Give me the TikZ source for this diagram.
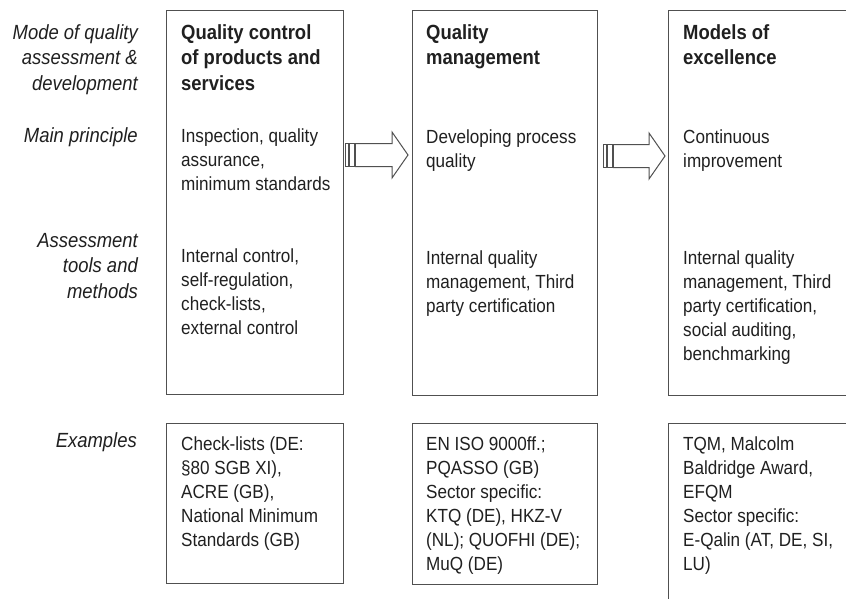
\documentclass[tikz,border=0pt]{standalone}
\usepackage{fontspec}
\setmainfont{Liberation Sans}[FakeStretch=0.9]
\usetikzlibrary{calc}
\definecolor{txt}{HTML}{202020}
\definecolor{ln}{HTML}{505050}
\tikzset{
  frame/.style={draw=ln, line width=1.3pt, fill=white, rectangle, inner sep=0pt},
  lbl/.style={anchor=base east, inner sep=0pt, align=right, text=txt,
    font=\fontsize{20.5}{25.5}\selectfont\itshape},
  ttl/.style={anchor=base west, inner sep=0pt, align=left, text=txt,
    font=\fontsize{20.5}{25.5}\selectfont\bfseries},
  bdy/.style={anchor=base west, inner sep=0pt, align=left, text=txt,
    font=\fontsize{19}{24}\selectfont},
  arrline/.style={draw=ln, line width=1pt, fill=white, line join=miter},
}
\begin{document}
\begin{tikzpicture}[x=1pt,y=-1pt]
\clip (0,0) rectangle (846,598);
\fill[white] (0,0) rectangle (846,598);
% boxes
\node[frame, minimum width=177pt, minimum height=384pt, anchor=north west] (b1) at (166,10) {};
\node[frame, minimum width=185pt, minimum height=385pt, anchor=north west] (b2) at (412,10) {};
\node[frame, minimum width=200pt, minimum height=385pt, anchor=north west] (b3) at (668,10) {};
\node[frame, minimum width=177pt, minimum height=160pt, anchor=north west] (e1) at (166,423) {};
\node[frame, minimum width=185pt, minimum height=161pt, anchor=north west] (e2) at (412,423) {};
\node[frame, minimum width=200pt, minimum height=200pt, anchor=north west] (e3) at (668,423) {};
% left labels (anchor = baseline of last line)
\node[lbl] (l1) at (138,90) {Mode of quality\\assessment \&\\development};
\node[lbl] (l2) at (138,142) {Main principle};
\node[lbl] (l3) at (138,298) {Assessment\\tools and\\methods};
\node[lbl] (l4) at (137,447) {Examples};
% box 1
\node[ttl] (t1) at (181,90) {Quality control\\of products and\\services};
\node[bdy] (p1) at (181,190) {Inspection, quality\\assurance,\\minimum standards};
\node[bdy] (m1) at (181,334) {Internal control,\\self-regulation,\\check-lists,\\external control};
\node[bdy] (x1) at (181,546) {Check-lists (DE:\\§80 SGB XI),\\ACRE (GB),\\National Minimum\\Standards (GB)};
% box 2
\node[ttl] (t2) at (426,64.5) {Quality\\management};
\node[bdy] (p2) at (426,167) {Developing process\\quality};
\node[bdy] (m2) at (426,312) {Internal quality\\management, Third\\party certification};
\node[bdy] (x2) at (426,570) {EN ISO 9000ff.;\\PQASSO (GB)\\Sector specific:\\KTQ (DE), HKZ-V\\(NL); QUOFHI (DE);\\MuQ (DE)};
% box 3
\node[ttl] (t3) at (683,64.5) {Models of\\excellence};
\node[bdy] (p3) at (683,167) {Continuous\\improvement};
\node[bdy] (m3) at (683,360) {Internal quality\\management, Third\\party certification,\\social auditing,\\benchmarking};
\node[bdy] (x3) at (683,570) {TQM, Malcolm\\Baldridge Award,\\EFQM\\Sector specific:\\E-Qalin (AT, DE, SI,\\LU)};
% arrows
\coordinate (s1) at ($(b1.north east)+(1,145)$);
\coordinate (f1) at ($(b2.north west)+(-4,145)$);
\coordinate (s2) at ($(b2.north east)+(5,146)$);
\coordinate (f2) at ($(b3.north west)+(-3,146)$);
\foreach \s/\f in {s1/f1, s2/f2}{
  \draw[arrline] ($(\s)+(0,-11.5)$) rectangle ($(\s)+(3,11.5)$);
  \draw[arrline] ($(\s)+(4.5,-11.5)$) rectangle ($(\s)+(9,11.5)$);
  \draw[arrline] ($(\s)+(10,-11.5)$) -- ($(\f)+(-16,-11.5)$) -- ($(\f)+(-16,-23)$)
    -- (\f) -- ($(\f)+(-16,23)$) -- ($(\f)+(-16,11.5)$) -- ($(\s)+(10,11.5)$) -- cycle;
}
\end{tikzpicture}
\end{document}
